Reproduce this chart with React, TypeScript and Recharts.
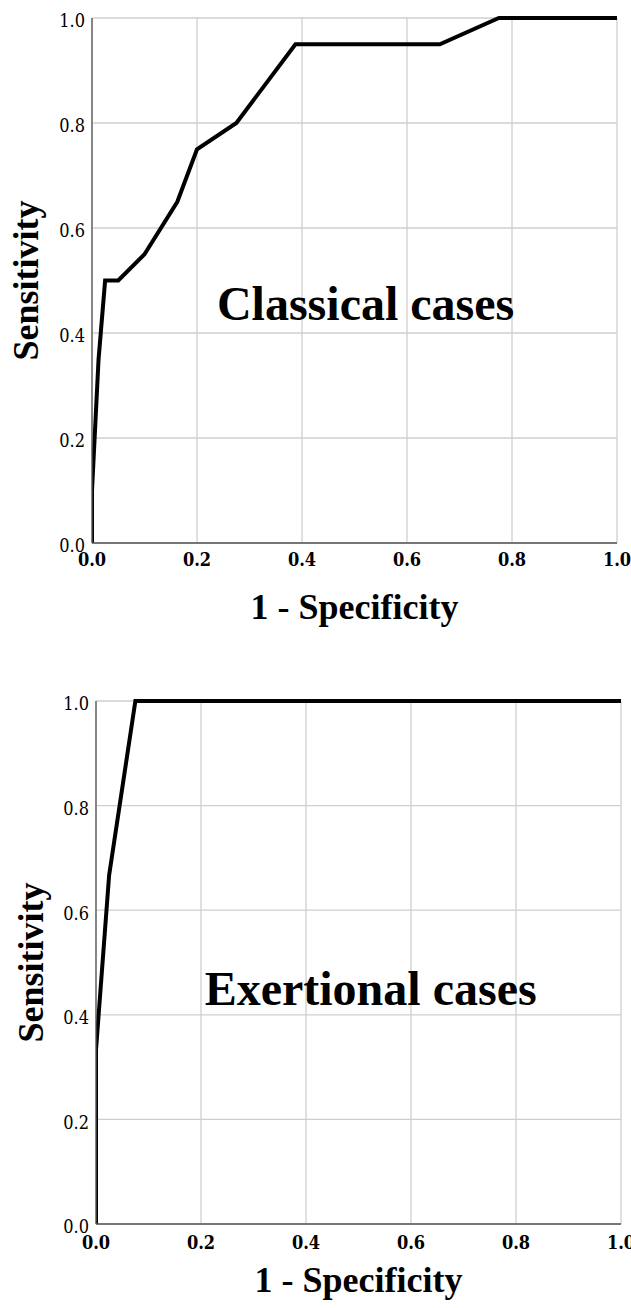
import React from 'react';
import { LineChart, Line, XAxis, YAxis, CartesianGrid, ReferenceDot } from 'recharts';

// Classical cases ROC curve
const classicalFpr = [0, 0, 0.0125, 0.025, 0.05, 0.1, 0.1625, 0.2, 0.275, 0.3875, 0.6625, 0.775, 1];
const classicalTpr = [0, 0.1, 0.35, 0.5, 0.5, 0.55, 0.65, 0.75, 0.8, 0.95, 0.95, 1, 1];

// Exertional cases ROC curve
const exertionalFpr = [0, 0, 0.025, 0.075, 1];
const exertionalTpr = [0, 0.333, 0.667, 1, 1];

const ticks = [0, 0.2, 0.4, 0.6, 0.8, 1];
const tickLabels = ['0.0', '0.2', '0.4', '0.6', '0.8', '1.0'];

const titles = ['Classical cases', 'Exertional cases'];
const titleAnchorX = [0.238, 0.207];
const titleAnchorY = [0.425, 0.419];

const xLabel = '1 - Specificity';
const yLabel = 'Sensitivity';

const toRows = (xs: number[], ys: number[]) => xs.map((x, i) => ({ fpr: x, tpr: ys[i] }));

const tickFont = '"DejaVu Serif Condensed", "DejaVu Serif", serif';
const labelFont = '"Liberation Serif", "Times New Roman", serif';

const fmt = (v: number) => tickLabels[ticks.indexOf(v)] ?? v.toFixed(1);

type PanelProps = {
  rows: { fpr: number; tpr: number }[];
  title: string;
  ax: number;
  ay: number;
  top: number;
  height: number;
  margin: { top: number; right: number; bottom: number; left: number };
  yAxisWidth: number;
  xTickMargin: number;
  xLabelOffset: number;
  yLabelOffset: number;
};

const Panel = ({ rows, title, ax, ay, top, height, margin, yAxisWidth, xTickMargin, xLabelOffset, yLabelOffset }: PanelProps) => (
  <div style={{ position: 'absolute', left: 0, top, width: 631, height }}>
    <LineChart width={631} height={height} data={rows} margin={margin}>
      <CartesianGrid stroke="#cfcfcf" strokeWidth={1.3} />
      <XAxis
        dataKey="fpr"
        type="number"
        domain={[0, 1]}
        ticks={ticks}
        tickFormatter={fmt}
        height={30}
        tickLine={false}
        tickSize={0}
        tickMargin={xTickMargin}
        axisLine={{ stroke: '#555', strokeWidth: 1.3 }}
        tick={{ fill: '#000', fontSize: 18, fontFamily: tickFont, fontWeight: 'bold' }}
        interval={0}
        allowDataOverflow
        label={{
          value: xLabel,
          position: 'bottom',
          offset: xLabelOffset,
          style: { fill: '#000', fontSize: 36, fontFamily: labelFont, fontWeight: 'bold' },
        }}
      />
      <YAxis
        dataKey="tpr"
        type="number"
        domain={[0, 1]}
        ticks={ticks}
        tickFormatter={fmt}
        width={yAxisWidth}
        tickLine={false}
        tickSize={0}
        tickMargin={7}
        axisLine={{ stroke: '#555', strokeWidth: 1.3 }}
        tick={{ fill: '#000', fontSize: 18, fontFamily: tickFont, dy: 3 }}
        interval={0}
        label={{
          value: yLabel,
          angle: -90,
          position: 'insideLeft',
          offset: yLabelOffset,
          style: { fill: '#000', fontSize: 36, fontFamily: labelFont, fontWeight: 'bold', textAnchor: 'middle' },
        }}
      />
      <Line
        type="linear"
        dataKey="tpr"
        stroke="#000"
        strokeWidth={4}
        dot={false}
        activeDot={false}
        isAnimationActive={false}
      />
      <ReferenceDot
        x={ax}
        y={ay}
        r={0}
        fill="none"
        stroke="none"
        label={(p: any) => (
          <text
            x={p.viewBox.x}
            y={p.viewBox.y}
            fill="#000"
            fontSize={48}
            fontWeight="bold"
            fontFamily={labelFont}
          >
            {title}
          </text>
        )}
      />
    </LineChart>
  </div>
);

export default function App() {
  return (
    <div style={{ position: 'absolute', left: 0, top: 0, width: 631, height: 1308, background: '#fff' }}>
      <Panel
        rows={toRows(classicalFpr, classicalTpr)}
        title={titles[0]}
        ax={titleAnchorX[0]}
        ay={titleAnchorY[0]}
        top={0}
        height={650}
        margin={{ top: 18, right: 14, bottom: 77, left: 0 }}
        yAxisWidth={92}
        xTickMargin={10}
        xLabelOffset={20}
        yLabelOffset={25}
      />
      <Panel
        rows={toRows(exertionalFpr, exertionalTpr)}
        title={titles[1]}
        ax={titleAnchorX[1]}
        ay={titleAnchorY[1]}
        top={683}
        height={625}
        margin={{ top: 18, right: 10, bottom: 54, left: 0 }}
        yAxisWidth={96}
        xTickMargin={12}
        xLabelOffset={12}
        yLabelOffset={30}
      />
    </div>
  );
}
